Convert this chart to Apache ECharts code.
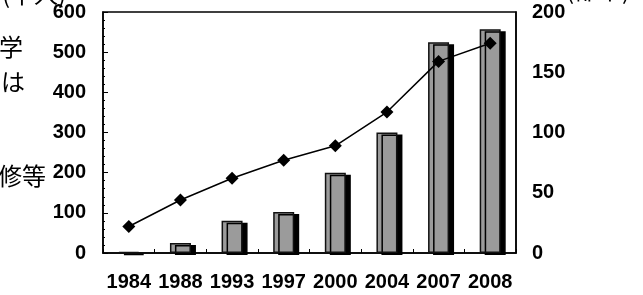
<!DOCTYPE html>
<html>
<head>
<meta charset="utf-8">
<script src="https://cdn.jsdelivr.net/npm/echarts@6/dist/echarts.min.js"></script>
<style>
html, body { margin: 0; padding: 0; background: #fff; }
#chart { width: 643px; height: 295px; }
</style>
</head>
<body>
<div id="chart"></div>
<script>
const years = ["1984", "1988", "1993", "1997", "2000", "2004", "2007", "2008"];
// bars: thousand people (left axis)
const people = [3, 25, 80, 102, 200, 300, 525, 557];
// line: number of cities (right axis)
const cities = [22, 44, 62, 77, 89, 117, 159, 174];

const chart = echarts.init(document.getElementById("chart"));

const numFont = {
    color: "#000",
    fontSize: 20,
    fontFamily: "Liberation Sans",
    fontWeight: "bold"
};
const jp = { fontSize: 24, fontFamily: "Noto Sans CJK JP", fill: "#000" };

chart.setOption({
    animation: false,
    grid: {
        left: 103,
        right: 127,
        top: 12,
        bottom: 42,
        show: true,
        borderColor: "#000",
        borderWidth: 1.5
    },
    graphic: [
        { type: "text", left: 2, top: -18, style: Object.assign({ text: "(千人)" }, jp) },
        { type: "text", left: 566, top: -22, style: Object.assign({ text: "(都市)" }, jp) },
        { type: "text", left: -1, top: 35, style: Object.assign({ text: "学" }, jp) },
        { type: "text", left: 1, top: 70, style: Object.assign({ text: "は" }, jp) },
        { type: "text", left: -2, top: 164, style: Object.assign({ text: "修等" }, jp) }
    ],
    xAxis: {
        type: "category",
        data: years,
        axisLine: { lineStyle: { color: "#000", width: 1.5 } },
        axisTick: { show: true, inside: true, length: 4, lineStyle: { color: "#000" } },
        axisLabel: Object.assign({ margin: 19, interval: 0 }, numFont)
    },
    yAxis: [
        {
            type: "value",
            min: 0,
            max: 600,
            interval: 100,
            splitLine: { show: false },
            axisLine: { show: true, lineStyle: { color: "#000", width: 1.5 } },
            axisTick: { show: true, inside: true, length: 5, lineStyle: { color: "#000" } },
            minorTick: { show: true, splitNumber: 5, length: 2, lineStyle: { color: "#000" } },
            axisLabel: Object.assign({ margin: 17 }, numFont)
        },
        {
            type: "value",
            min: 0,
            max: 200,
            interval: 50,
            splitLine: { show: false },
            axisLine: { show: true, lineStyle: { color: "#000", width: 1.5 } },
            axisTick: { show: false },
            axisLabel: Object.assign({ margin: 16 }, numFont)
        }
    ],
    series: [
        {
            name: "千人",
            type: "bar",
            data: people,
            barWidth: 21,
            itemStyle: {
                color: "#9b9b9b",
                borderColor: "#111",
                borderWidth: 1.5,
                shadowColor: "#000",
                shadowBlur: 0,
                shadowOffsetX: 5,
                shadowOffsetY: 2
            }
        },
        {
            name: "都市",
            type: "line",
            yAxisIndex: 1,
            data: cities,
            symbol: "diamond",
            symbolSize: 13,
            lineStyle: { color: "#000", width: 1.5 },
            itemStyle: { color: "#000" },
            z: 3
        }
    ]
});
</script>
</body>
</html>
